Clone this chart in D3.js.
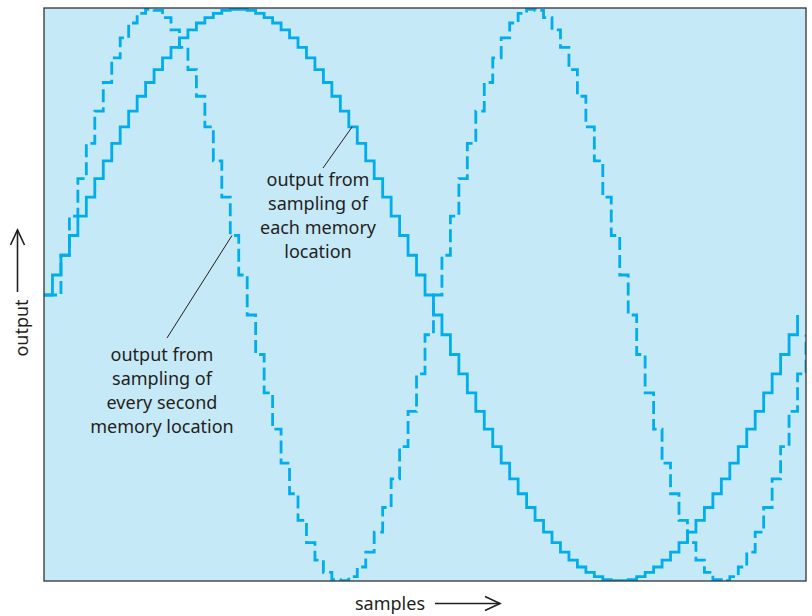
<!DOCTYPE html>
<html>
<head>
<meta charset="utf-8">
<script src="https://cdn.jsdelivr.net/npm/d3@7"></script>
<style>
  html, body { margin: 0; padding: 0; background: #fff; }
  svg text { font-family: "Noto Sans", "DejaVu Sans", sans-serif; fill: #231f20; }
</style>
</head>
<body>
<svg id="chart" width="812" height="616"></svg>
<script>
// Waveform table held in memory: one cycle, 90 locations (levels -1..1)
const memory = [
  0, 0.070, 0.139, 0.208, 0.276, 0.342, 0.407, 0.469, 0.530, 0.588,
  0.643, 0.695, 0.743, 0.788, 0.829, 0.866, 0.899, 0.927, 0.951, 0.970,
  0.985, 0.995, 0.999, 0.999, 0.995, 0.985, 0.970, 0.951, 0.927, 0.899,
  0.866, 0.829, 0.788, 0.743, 0.695, 0.643, 0.588, 0.530, 0.469, 0.407,
  0.342, 0.276, 0.208, 0.139, 0.070, 0, -0.070, -0.139, -0.208, -0.276,
  -0.342, -0.407, -0.469, -0.530, -0.588, -0.643, -0.695, -0.743, -0.788, -0.829,
  -0.866, -0.899, -0.927, -0.951, -0.970, -0.985, -0.995, -0.999, -0.999, -0.995,
  -0.985, -0.970, -0.951, -0.927, -0.899, -0.866, -0.829, -0.788, -0.743, -0.695,
  -0.643, -0.588, -0.530, -0.469, -0.407, -0.342, -0.276, -0.208, -0.139, -0.070
];

// Clock ticks shown along the x axis
const clockCount = 90;

// Read pointer sequences: every location, and every second location
// (the halved-table pointer starts one clock late)
const eachLocationReads = d3.range(0, clockCount);
const everySecondReads = d3.range(0, clockCount + 1).map(t => t === 0 ? 0 : (2 * (t - 1)) % memory.length);

const eachLocationSeries = eachLocationReads.map((loc, t) => ({ t, v: memory[loc] }));
const everySecondSeries = everySecondReads.map((loc, t) => ({ t, v: memory[loc] }));

// Text
const axisLabelX = "samples";
const axisLabelY = "output";
const noteEach = ["output from", "sampling of", "each memory", "location"];
const noteEverySecond = ["output from", "sampling of", "every second", "memory location"];

const plot = { left: 44, right: 806, top: 8, bottom: 581 };
const lineColor = "#00adee";

const svg = d3.select("#chart");

const x = d3.scaleLinear().domain([0, clockCount]).range([plot.left, plot.right]);
const y = d3.scaleLinear().domain([-1, 1]).range([plot.bottom, plot.top + 1]);

svg.append("defs").append("clipPath").attr("id", "plotClip")
  .append("rect")
  .attr("x", plot.left).attr("y", plot.top)
  .attr("width", plot.right - plot.left).attr("height", plot.bottom - plot.top);

// Panel background
svg.append("rect")
  .attr("x", plot.left).attr("y", plot.top)
  .attr("width", plot.right - plot.left).attr("height", plot.bottom - plot.top)
  .attr("fill", "#c6e9f8");

const stairs = d3.line()
  .x(d => x(d.t))
  .y(d => y(d.v))
  .curve(d3.curveStepAfter);

const g = svg.append("g").attr("clip-path", "url(#plotClip)");

g.append("path")
  .datum(everySecondSeries)
  .attr("d", stairs)
  .attr("fill", "none")
  .attr("stroke", lineColor)
  .attr("stroke-width", 2.8)
  .attr("stroke-dasharray", "13,5");

g.append("path")
  .datum(eachLocationSeries)
  .attr("d", stairs)
  .attr("fill", "none")
  .attr("stroke", lineColor)
  .attr("stroke-width", 2.8);

// Panel frame
svg.append("rect")
  .attr("x", plot.left).attr("y", plot.top)
  .attr("width", plot.right - plot.left).attr("height", plot.bottom - plot.top)
  .attr("fill", "none")
  .attr("stroke", "#333")
  .attr("stroke-width", 1.3);

// Leader lines from each trace to its note
function leader(series, t, x2, y2) {
  const d = series[Math.floor(t)];
  svg.append("line")
    .attr("x1", x(t)).attr("y1", y(d.v))
    .attr("x2", x2).attr("y2", y2)
    .attr("stroke", "#231f20")
    .attr("stroke-width", 1);
}
leader(eachLocationSeries, 36.4, 323, 168);
leader(everySecondSeries, 22.2, 167, 338);

function note(lines, cx, firstBaseline) {
  const t = svg.append("text").attr("text-anchor", "middle").style("font-size", "18px");
  lines.forEach((s, i) => {
    t.append("tspan").attr("x", cx).attr("y", firstBaseline + i * 24).text(s);
  });
}
note(noteEach, 318, 186);
note(noteEverySecond, 162, 361);

// Axis titles with arrows
svg.append("text")
  .attr("x", 390).attr("y", 610)
  .attr("text-anchor", "middle")
  .style("font-size", "18px")
  .text(axisLabelX);

svg.append("text")
  .attr("transform", "translate(28,328) rotate(-90)")
  .attr("text-anchor", "middle")
  .style("font-size", "18px")
  .text(axisLabelY);

const arrowStyle = sel => sel.attr("fill", "none").attr("stroke", "#231f20").attr("stroke-width", 1.6);

svg.append("line").attr("x1", 435).attr("y1", 603.5).attr("x2", 500).attr("y2", 603.5).call(arrowStyle);
svg.append("path").attr("d", "M485,596.5 L500,603.5 L485,610.5").call(arrowStyle);

svg.append("line").attr("x1", 17.5).attr("y1", 292).attr("x2", 17.5).attr("y2", 230).call(arrowStyle);
svg.append("path").attr("d", "M10.5,245 L17.5,230 L24.5,245").call(arrowStyle);
</script>
</body>
</html>
